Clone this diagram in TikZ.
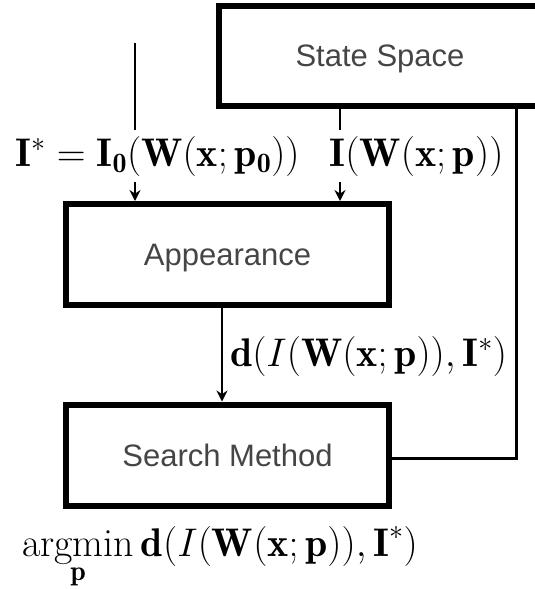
\RequirePackage{fix-cm}
\documentclass[tikz,border=0pt]{standalone}
\usepackage{amsmath}
\usepackage{fontspec}
\setsansfont{Liberation Sans}
\usetikzlibrary{arrows.meta}
\definecolor{boxtext}{HTML}{454545}
\begin{document}
\begin{tikzpicture}[x=1pt,y=-1pt,
  blk/.style={draw=black,line width=6pt,minimum width=323pt,minimum height=101pt,
    inner sep=0pt,font=\sffamily\fontsize{31}{36}\selectfont,text=boxtext,
    text height=22pt,text depth=0pt},
  thinln/.style={line width=1.5pt},
  arr/.style={thinln,-{Stealth[length=11pt,width=11pt]}},
  lbl/.style={font=\fontsize{40}{44}\selectfont,inner xsep=0pt,inner ysep=6pt}]
\useasboundingbox (0,0) rectangle (535,589);
% boxes
\node[blk,minimum width=322pt,minimum height=100pt] (ss) at (380,55.5) {State Space};
\node[blk] (app) at (227.5,254.5) {Appearance};
\node[blk] (srch) at (227.5,455) {Search Method};
% labels
\node[lbl,anchor=base] (l1) at (157.5,166) {$\mathbf{I}^* = \mathbf{I_0}(\mathbf{W}(\mathbf{x};\mathbf{p_0}))$};
\node[lbl,anchor=base] (l2) at (416.5,166) {$\mathbf{I}(\mathbf{W}(\mathbf{x};\mathbf{p}))$};
\node[lbl,anchor=base] (l3) at (368.5,366) {$\mathbf{d}(I(\mathbf{W}(\mathbf{x};\mathbf{p})),\mathbf{I}^*)$};
\node[lbl,anchor=base,inner ysep=0pt] (l4) at (220,556) {$\displaystyle\operatorname*{argmin}_{\mathbf{p}}\mathbf{d}(I(\mathbf{W}(\mathbf{x};\mathbf{p})),\mathbf{I}^*)$};
% connectors
\coordinate (in1) at (135,43);
\coordinate (m) at (340,0);
\coordinate (c) at (222,0);
\coordinate (r) at (516,0);
\coordinate (loopc) at (516,458);
\draw[thinln] (in1) -- (in1 |- l1.north);
\draw[arr] (in1 |- l1.south) -- (in1 |- app.north);
\draw[thinln] (m |- ss.south) -- (m |- l2.north);
\draw[arr] (m |- l2.south) -- (m |- app.north);
\draw[arr] (c |- app.south) -- (c |- srch.north);
\draw[line width=3pt] (r |- ss.south) -- (loopc) -- (loopc -| srch.east);
\end{tikzpicture}
\end{document}
